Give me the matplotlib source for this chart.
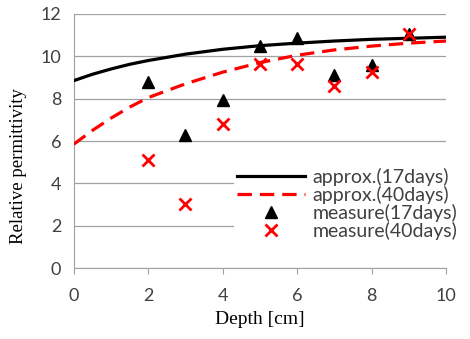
import numpy as np
import matplotlib.pyplot as plt

# measured points
depth = [2, 3, 4, 5, 6, 7, 8, 9]
meas_17 = [8.8, 6.3, 7.95, 10.5, 10.85, 9.1, 9.6, 11.05]
meas_40 = [5.1, 3.05, 6.8, 9.65, 9.65, 8.6, 9.25, 11.05]

# approximation curves
x_fit = [0, 0.5, 1, 1.5, 2, 3, 4, 5, 6, 7, 8, 9, 10]
fit_17 = [8.85, 9.15, 9.4, 9.62, 9.8, 10.1, 10.33, 10.5, 10.62, 10.72, 10.8, 10.85, 10.9]
fit_40 = [5.85, 6.5, 7.08, 7.6, 8.05, 8.7, 9.25, 9.7, 10.05, 10.3, 10.48, 10.62, 10.72]

gray = "#404040"

fig = plt.figure(figsize=(4.7, 3.39), dpi=100)
ax = fig.add_axes([0.157, 0.209, 0.792, 0.75])

ax.plot(x_fit, fit_17, color="black", lw=2.3, label="approx.(17days)", zorder=3)
ax.plot(x_fit, fit_40, color="red", lw=2.3, ls=(0, (4.5, 2.5)), label="approx.(40days)", zorder=3)
ax.plot(depth, meas_17, ls="none", marker="^", color="black", ms=9, label="measure(17days)", zorder=4)
ax.plot(depth, meas_40, ls="none", marker="x", color="red", ms=8, mew=2, label="measure(40days)", zorder=4)

ax.set_xlim(0, 10)
ax.set_ylim(0, 12)
ax.set_xticks(range(0, 11, 2))
ax.set_yticks(range(0, 13, 2))
ax.yaxis.grid(True, color="#a0a0a0", lw=0.9)
ax.set_axisbelow(True)
for s in ["top", "right"]:
    ax.spines[s].set_visible(False)
for s in ["left", "bottom"]:
    ax.spines[s].set_color("#a0a0a0")
ax.tick_params(axis="y", length=0, labelsize=13, labelcolor=gray, pad=9)
ax.tick_params(axis="x", direction="out", length=4, color="#a0a0a0", labelsize=13, labelcolor=gray, pad=10)
for t in ax.get_xticklabels() + ax.get_yticklabels():
    t.set_fontfamily("Lato")

ax.set_xlabel("Depth [cm]", fontfamily="Liberation Serif", fontsize=14, labelpad=5)
ax.set_ylabel("Relative permittivity", fontfamily="Liberation Serif", fontsize=13.5)
ax.yaxis.set_label_coords(-0.125, 0.40)

leg = ax.legend(loc="lower right", bbox_to_anchor=(1.0, 0.255), bbox_transform=fig.transFigure,
                prop={"family": "Lato", "size": 14}, handlelength=3.5, handletextpad=0.4,
                labelspacing=0.0, frameon=True, fancybox=False, borderpad=0.15)
leg.get_frame().set_facecolor("white")
leg.get_frame().set_edgecolor("none")
leg.get_frame().set_alpha(1)
for t in leg.get_texts():
    t.set_color(gray)

fig.savefig("out.png", dpi=100)
